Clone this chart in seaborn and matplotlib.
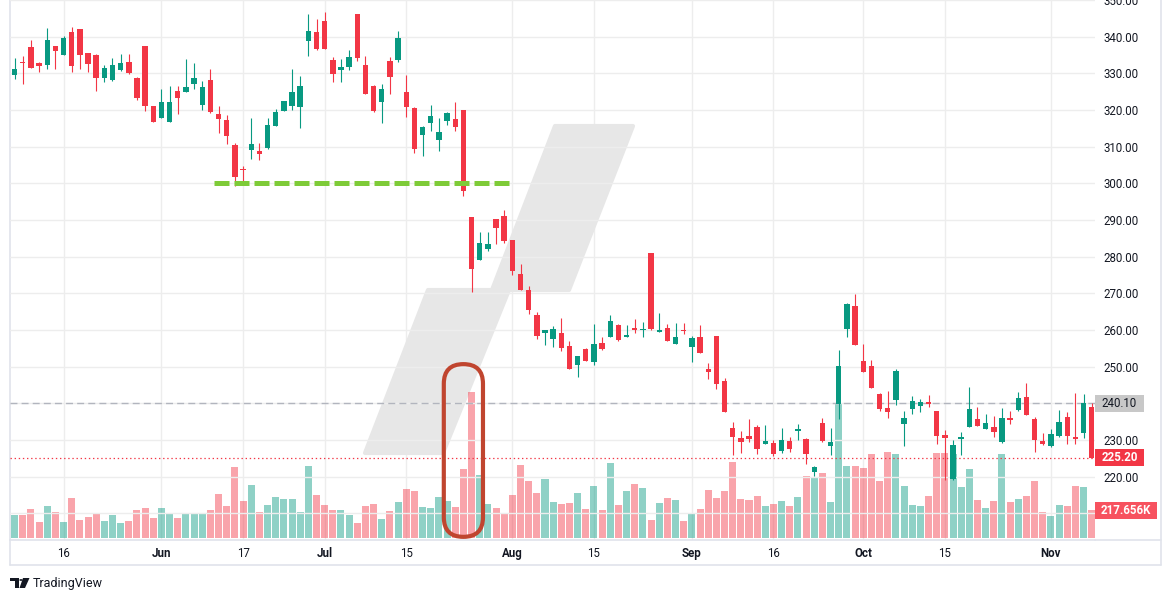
import matplotlib
matplotlib.use("Agg")
import numpy as np
import pandas as pd
import seaborn as sns
from matplotlib import pyplot as plt
from matplotlib.patches import Polygon, FancyBboxPatch, Rectangle, Circle
from matplotlib.transforms import blended_transform_factory
from matplotlib.lines import Line2D

# daily candles (price in $, volume in thousands)
opens = [329.6, 333.1, 337.2, 332.8, 332.4, 337.5, 335.1, 341.3, 342.1, 335.5,
         335.0, 328.8, 328.3, 330.9, 333.1, 328.7, 337.5, 321.1, 317.9, 316.8,
         325.2, 325.0, 327.2, 321.5, 328.2, 318.9, 317.3, 310.5, 303.9, 309.2,
         308.8, 309.7, 315.7, 319.8, 321.2, 320.9, 338.9, 341.3, 344.3, 333.6,
         331.0, 331.8, 346.2, 332.3, 326.5, 322.2, 333.5, 333.6, 324.9, 320.5,
         313.3, 316.5, 311.8, 317.1, 317.5, 320.0, 290.8, 279.1, 282.1, 290.3,
         291.1, 284.5, 275.3, 271.0, 264.2, 259.3, 257.6, 259.2, 255.6, 250.5,
         254.8, 251.4, 256.5, 258.1, 261.4, 258.1, 260.5, 260.1, 281.0, 259.5,
         260.5, 256.2, 260.0, 255.4, 258.1, 249.4, 258.4, 246.1, 233.3, 230.5,
         231.1, 233.6, 228.9, 229.2, 227.0, 229.7, 232.5, 230.3, 221.3, 234.6,
         228.5, 239.8, 260.3, 266.6, 251.5, 250.2, 242.5, 238.7, 240.9, 234.4,
         238.5, 239.4, 240.4, 237.9, 231.4, 219.5, 230.4, 233.6, 235.7, 233.0,
         233.6, 229.5, 236.0, 238.2, 241.7, 235.7, 229.7, 228.4, 231.2, 236.3,
         230.8, 232.0, 239.0]
highs = [334.2, 334.7, 339.1, 333.1, 342.4, 337.5, 340.2, 342.6, 342.1, 335.5,
         335.3, 332.3, 334.2, 335.3, 335.3, 329.0, 337.5, 321.1, 325.7, 326.5,
         326.5, 333.9, 332.8, 327.9, 331.2, 321.1, 318.6, 311.0, 304.8, 317.8,
         311.0, 317.8, 320.3, 322.5, 331.2, 329.3, 346.2, 344.8, 346.7, 334.5,
         333.9, 336.4, 346.2, 334.7, 326.8, 327.1, 334.5, 341.5, 329.5, 320.8,
         315.6, 321.4, 317.8, 319.5, 322.2, 320.0, 290.8, 286.7, 286.7, 290.3,
         292.7, 284.5, 278.0, 272.0, 265.0, 260.0, 261.1, 263.3, 257.0, 252.9,
         255.1, 261.6, 258.1, 264.1, 261.6, 261.4, 263.0, 262.2, 281.0, 264.6,
         261.6, 261.9, 261.9, 258.4, 261.4, 251.0, 258.4, 246.9, 234.9, 232.5,
         235.7, 234.1, 234.1, 230.0, 233.3, 230.8, 234.4, 230.5, 222.9, 236.0,
         233.3, 254.5, 267.4, 269.8, 256.2, 251.8, 242.8, 243.4, 249.4, 237.9,
         242.0, 241.2, 242.3, 237.9, 232.7, 230.0, 232.2, 244.5, 239.0, 237.1,
         236.6, 238.7, 237.9, 243.1, 245.5, 236.3, 231.9, 233.0, 238.2, 237.6,
         242.8, 242.6, 240.0]
lows = [328.5, 327.2, 331.5, 330.5, 331.3, 331.3, 335.1, 330.5, 331.3, 330.5,
        325.3, 327.7, 328.0, 330.6, 329.9, 322.8, 319.8, 316.8, 317.9, 316.8,
        319.0, 325.0, 325.8, 320.1, 319.3, 313.8, 310.8, 299.4, 300.7, 306.6,
        306.5, 309.5, 315.7, 319.8, 320.1, 315.2, 334.8, 336.5, 336.7, 327.7,
        327.7, 331.0, 333.5, 324.5, 319.5, 316.5, 324.4, 333.0, 318.1, 308.4,
        307.5, 314.4, 308.8, 315.9, 314.3, 296.6, 270.5, 279.1, 281.5, 283.5,
        283.8, 275.1, 271.0, 264.5, 257.5, 255.9, 255.4, 254.4, 249.4, 247.3,
        251.6, 250.5, 254.5, 258.1, 257.0, 258.1, 259.2, 258.1, 260.0, 259.5,
        257.0, 256.2, 258.9, 251.3, 253.7, 246.6, 243.9, 237.7, 226.0, 226.5,
        229.5, 226.3, 228.9, 225.7, 226.5, 226.8, 230.0, 223.5, 220.2, 229.5,
        226.0, 235.7, 258.1, 255.9, 248.5, 244.2, 237.9, 236.0, 239.5, 228.4,
        237.2, 237.7, 239.1, 228.9, 219.1, 219.1, 225.9, 233.6, 233.9, 233.0,
        230.8, 229.3, 234.5, 237.9, 236.9, 226.8, 228.6, 228.2, 230.9, 229.0,
        229.0, 230.5, 225.2]
closes = [331.2, 332.7, 331.5, 332.1, 339.1, 336.2, 339.6, 332.1, 335.1, 332.6,
          328.8, 331.5, 332.3, 332.8, 330.2, 323.4, 321.2, 316.8, 322.2, 322.2,
          323.4, 326.3, 328.7, 326.3, 319.5, 317.6, 313.0, 301.8, 303.7, 310.7,
          308.1, 315.9, 319.5, 322.5, 324.9, 326.5, 341.5, 336.7, 336.7, 329.9,
          331.7, 334.5, 334.3, 324.5, 319.7, 325.7, 329.0, 339.6, 320.8, 309.4,
          315.4, 318.4, 314.0, 319.2, 315.4, 298.0, 276.7, 283.7, 283.5, 287.9,
          284.4, 276.2, 271.0, 265.5, 258.5, 260.0, 260.3, 255.2, 249.4, 252.9,
          251.6, 256.2, 254.8, 262.4, 257.3, 258.6, 260.0, 260.3, 260.3, 260.0,
          257.0, 258.1, 259.7, 257.8, 253.7, 248.5, 245.3, 237.7, 230.9, 229.5,
          230.4, 227.6, 229.7, 226.3, 230.0, 227.6, 233.0, 226.3, 222.6, 229.7,
          229.5, 250.2, 267.1, 255.9, 248.5, 244.2, 238.5, 237.6, 248.8, 236.0,
          240.6, 240.4, 239.9, 231.2, 230.6, 228.6, 230.8, 238.5, 233.9, 234.6,
          232.2, 236.0, 235.6, 241.5, 236.9, 230.1, 229.0, 231.6, 234.9, 231.2,
          230.4, 240.1, 225.2]
volumes_k = [179, 179, 226, 124, 249, 202, 124, 311, 140, 163,
             195, 132, 179, 117, 132, 218, 233, 156, 233, 195,
             156, 187, 187, 195, 218, 342, 249, 552, 288, 412,
             202, 257, 319, 303, 303, 202, 560, 334, 257, 218,
             218, 179, 117, 249, 264, 148, 210, 280, 381, 365,
             241, 233, 319, 288, 241, 537, 1135, 490, 264, 233,
             187, 334, 568, 443, 350, 459, 280, 264, 272, 350,
             226, 404, 218, 583, 257, 365, 420, 389, 140, 272,
             311, 295, 132, 195, 226, 373, 311, 365, 591, 303,
             295, 327, 249, 264, 288, 249, 319, 482, 467, 505,
             280, 1050, 560, 560, 544, 653, 443, 669, 653, 404,
             257, 249, 327, 661, 661, 653, 397, 537, 295, 233,
             288, 653, 280, 303, 327, 443, 202, 171, 257, 249,
             404, 397, 217.656]

tick_pos = [6, 18, 28, 38, 48, 61, 71, 83, 93, 104, 114, 127]
tick_labels = ['16', 'Jun', '17', 'Jul', '15', 'Aug', '15', 'Sep', '16', 'Oct', '15', 'Nov']
months = ['Jun', 'Jul', 'Aug', 'Sep', 'Oct', 'Nov']
price_ticks = list(range(210, 360, 10))

support_level = 300.0
support_start, support_end = 24.45, 61.0
prev_close = 240.10
last_close = closes[-1]
last_vol = volumes_k[-1]

UP, DOWN = '#089981', '#f23645'

df = pd.DataFrame({'bar': np.arange(len(opens)), 'open': opens, 'high': highs,
                   'low': lows, 'close': closes, 'vol': volumes_k})
df['dir'] = np.where(df['close'] >= df['open'], 'up', 'down')

sns.set_theme(style='white')
plt.rcParams['font.family'] = ['Roboto', 'DejaVu Sans']

W, H = 1171, 601
fig = plt.figure(figsize=(W / 100, H / 100), dpi=100)


def fx(px):
    return px / W


def fy(py):
    return 1 - py / H


ax_v = fig.add_axes([fx(10), fy(540), (1095 - 10) / W, 540 / H])

# TradingView-like watermark behind the series
wm = [(555, 126), (633, 126), (569, 290), (509, 290), (443, 453), (365, 453), (428, 290), (492, 290)]
wm_ax = [((x - 10) / 1085, (540 - y) / 540) for x, y in wm]
ax_v.add_patch(Polygon(wm_ax, closed=True, transform=ax_v.transAxes, facecolor='#e7e7e7',
                       edgecolor='#e7e7e7', lw=3, joinstyle='round', zorder=0.8))

# volume
sns.barplot(data=df, x='bar', y='vol', hue='dir', palette={'up': UP, 'down': DOWN},
            native_scale=True, dodge=False, width=0.86, alpha=0.45, saturation=1,
            linewidth=0, errorbar=None, legend=False, ax=ax_v)
ax_v.set_ylim(-15.6, 4184)
ax_v.set_xlim(-0.56, 132.4)
ax_v.set_yticks([])
ax_v.set_ylabel('')
ax_v.set_xlabel('')
ax_v.set_xticks(tick_pos)
ax_v.set_xticklabels(tick_labels)
for t in ax_v.get_xticklabels():
    if t.get_text() in months:
        t.set_fontweight('bold')
ax_v.tick_params(axis='x', length=0, pad=5, labelsize=8.3, labelcolor='#131722')
ax_v.xaxis.grid(True, color='#ededed', linewidth=1)
for s in ['top', 'right']:
    ax_v.spines[s].set_visible(False)
for s in ['left', 'bottom']:
    ax_v.spines[s].set_color('#e0e3eb')
    ax_v.spines[s].set_linewidth(1.2)

# price
ax = ax_v.twinx()
ax.set_ylim(202.74, 350.0)
ax.set_xlim(-0.56, 132.4)
ax.set_yticks(price_ticks)
# 210 and 240 sit under the value badges on the scale
covered = [210, 240]
ax.yaxis.set_major_formatter(matplotlib.ticker.FuncFormatter(
    lambda v, p: '' if round(v) in covered else f'{v:.2f}'))
ax.tick_params(axis='y', length=0, pad=5.8, labelsize=8.3, labelcolor='#131722')
ax.yaxis.grid(True, color='#ededed', linewidth=1)
ax.set_axisbelow(True)
for s in ax.spines.values():
    s.set_visible(False)

cols = np.where(df['dir'] == 'up', UP, DOWN)
ax.vlines(df['bar'], df['low'], df['high'], colors=cols, linewidth=0.8, zorder=3)
body_lo = np.minimum(df['open'], df['close'])
body_h = np.maximum(np.abs(df['close'] - df['open']), 0.3)
ax.bar(df['bar'], body_h, bottom=body_lo, width=0.66, color=cols, linewidth=0, zorder=4)

ax.axhline(prev_close, color='#b2b5be', lw=1, ls=(0, (5, 3)), zorder=2)
ax.axhline(last_close, color=DOWN, lw=0.9, ls=(0, (1.1, 2.2)), zorder=2)

ax.hlines(support_level, support_start, support_end, color='#7ecb38', lw=3.6,
          linestyles=[(0, (3.0, 1.0))], zorder=5)

# ring round the volume spike
spike = int(np.argmax(volumes_k))
ring_w = 4.8
ring_top, ring_bot = 250.7, 203.6
fig.canvas.draw()
x_ppu = ax.transData.transform((1, 0))[0] - ax.transData.transform((0, 0))[0]
y_ppu = ax.transData.transform((0, 1))[1] - ax.transData.transform((0, 0))[1]
ring = FancyBboxPatch((spike - 1 - ring_w / 2, ring_bot), ring_w, ring_top - ring_bot,
                      boxstyle=f'round,pad=0,rounding_size={ring_w / 2}',
                      mutation_aspect=x_ppu / y_ppu, fill=False, edgecolor='#c0452f',
                      lw=3, zorder=7)
ax.add_patch(ring)

# price-scale labels
bt = blended_transform_factory(ax.transAxes, ax.transData)
bv = blended_transform_factory(ax.transAxes, ax_v.transData)
hh = 8.5 / y_ppu
ax.add_patch(Rectangle((1.0, prev_close - hh), 49 / 1085, 2 * hh, transform=bt,
                       facecolor='#c8c8c8', lw=0, clip_on=False, zorder=10))
ax.text(1.0 + 24.5 / 1085, prev_close, f'{prev_close:.2f}', transform=bt, ha='center',
        va='center', fontsize=8.3, color='#131722', clip_on=False, zorder=11)
ax.add_patch(Rectangle((1.0, last_close - hh), 49 / 1085, 2 * hh, transform=bt,
                       facecolor=DOWN, lw=0, clip_on=False, zorder=10))
ax.text(1.0 + 24.5 / 1085, last_close, f'{last_close:.2f}', transform=bt, ha='center',
        va='center', fontsize=8.3, fontweight='bold', color='white', clip_on=False, zorder=11)
v_ppu = ax_v.transData.transform((0, 1))[1] - ax_v.transData.transform((0, 0))[1]
vh = 8.5 / v_ppu
ax.add_patch(Rectangle((1.0, last_vol - vh), 62 / 1085, 2 * vh, transform=bv,
                       facecolor='#f7525f', lw=0, clip_on=False, zorder=10))
ax.text(1.0 + 31 / 1085, last_vol, f'{last_vol:.3f}K', transform=bv, ha='center',
        va='center', fontsize=8.3, fontweight='bold', color='white', clip_on=False, zorder=11)

# outer frame of the chart widget
frame = '#e0e3eb'
for (x0, y0, x1, y1) in [(1161, 0, 1161, 565), (10, 565, 1161, 565), (10, 540, 10, 565),
                         (1095, 539.5, 1161, 539.5)]:
    fig.add_artist(Line2D([fx(x0), fx(x1)], [fy(y0), fy(y1)], color=frame, lw=1.2))

# logo
logo = '#131722'
fig.add_artist(Rectangle((fx(10), fy(581)), 9 / W, 3 / H, transform=fig.transFigure, color=logo, lw=0))
fig.add_artist(Rectangle((fx(14.5), fy(588)), 4 / W, 10 / H, transform=fig.transFigure, color=logo, lw=0))
fig.add_artist(Circle((fx(21), fy(580)), 1.7 / W, transform=fig.transFigure, color=logo, lw=0))
fig.add_artist(Polygon([(fx(23), fy(578)), (fx(29.5), fy(578)), (fx(25), fy(588)), (fx(19.5), fy(588))],
                       closed=True, transform=fig.transFigure, color=logo, lw=0))
fig.text(fx(33), fy(583), 'TradingView', fontsize=9, color=logo, va='center', ha='left')

fig.savefig('out.png', dpi=100)
